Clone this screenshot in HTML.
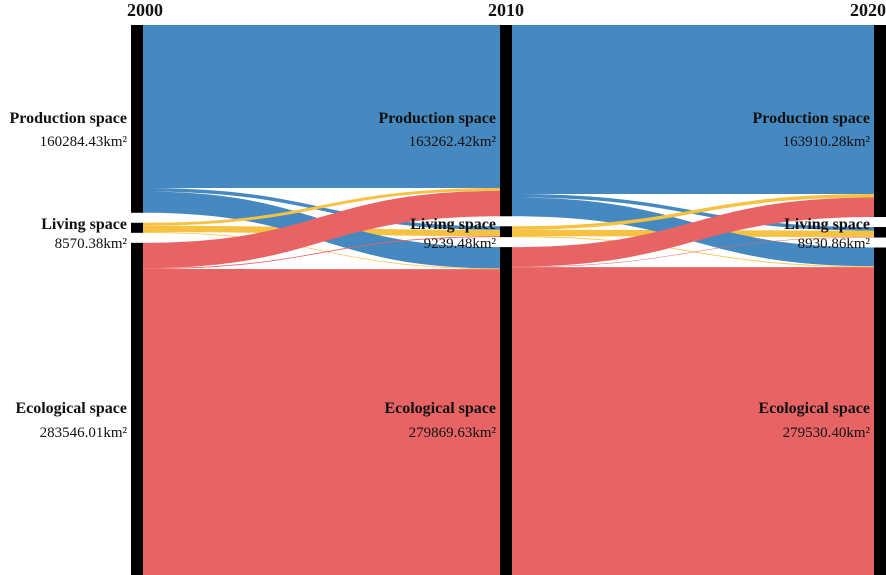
<!DOCTYPE html>
<html><head><meta charset="utf-8"><style>
body{margin:0;background:#fff}
svg{display:block}
text{font-family:"Liberation Serif",serif;fill:#111}
.t{font-weight:bold;font-size:16px}
.v{font-size:15px}
.y{font-weight:bold;font-size:18px}
</style></head><body>
<svg id="c" width="886" height="575" viewBox="0 0 886 575"></svg>
<script>
const years=["2000","2010","2020"];
const categories=["Production space","Living space","Ecological space"];
const nodeValues=[[160284.43,8570.38,283546.01],[163262.42,9239.48,279869.63],[163910.28,8930.86,279530.40]];
const flows1=[[139100,3000,18184],[2500,5500,570],[21662,739,261145]];
const flows2=[[144260,3000,16002],[3000,5500,739],[16650,430,262789]];
const colors=["#4589c0","#f6c244","#e86464"];
const NS="http://www.w3.org/2000/svg";
const svg=document.getElementById("c");
const colX=[131,500,874],barW=12,yTop=25,yBottom=575,pad=10;
function el(t,a,p){const e=document.createElementNS(NS,t);for(const k in a)e.setAttribute(k,a[k]);(p||svg).appendChild(e);return e;}
function scaleFor(c){const tot=nodeValues[c].reduce((a,b)=>a+b,0);return v=>v*(yBottom-yTop-pad*2)/tot;}
function nodeTops(c){const s=scaleFor(c);let y=yTop;return nodeValues[c].map(v=>{const t=y;y+=s(v)+pad;return t;});}
const gLinks=el("g",{});


[flows1,flows2].forEach((F,ci)=>{
  const s0=scaleFor(ci),s1=scaleFor(ci+1);
  const t0=nodeTops(ci),t1=nodeTops(ci+1);
  const srcOff=t0.slice(),tgtOff=t1.slice();
  const x0=colX[ci]+barW,x1=colX[ci+1],xm=(x0+x1)/2;
  const links=[];
  for(let i=0;i<3;i++)for(let j=0;j<3;j++){
    const h0=s0(F[i][j]),h1=s1(F[i][j]);
    links.push({i,j,a:srcOff[i],b:0,h0,h1});srcOff[i]+=h0;
  }
  for(let j=0;j<3;j++)for(let i=0;i<3;i++){const L=links[i*3+j];L.b=tgtOff[j];tgtOff[j]+=L.h1;}
  links.sort((p,q)=>(p.i===p.j?0:1)-(q.i===q.j?0:1));
  links.forEach(L=>{
    const d=`M${x0},${L.a}C${xm},${L.a} ${xm},${L.b} ${x1},${L.b}L${x1},${L.b+L.h1}C${xm},${L.b+L.h1} ${xm},${L.a+L.h0} ${x0},${L.a+L.h0}Z`;
    const p=el("path",{d,fill:colors[L.i]},gLinks);
    
    
  });
});
colX.forEach((x,c)=>{
  const s=scaleFor(c),tops=nodeTops(c);
  nodeValues[c].forEach((v,k)=>{
    const b=el("rect",{x,y:tops[k],width:barW,height:s(v),fill:"#000"});
    
    
  });
  const yl=el("text",{x:c===0?x-4:(c===1?x+6:886),y:16,"text-anchor":c===0?"start":(c===1?"middle":"end"),class:"y"});
  yl.textContent=years[c];
  
  
  const lx=x-4,ty=[123,229,413],vy=[146,248,437];
  categories.forEach((n,k)=>{
    const t=el("text",{x:lx,y:ty[k],"text-anchor":"end",class:"t"});t.textContent=n;
    
    
    const v=el("text",{x:lx,y:vy[k],"text-anchor":"end",class:"v"});
    v.textContent=nodeValues[c][k].toFixed(2)+"km²";
    
    
  });
});
</script>
</body></html>
